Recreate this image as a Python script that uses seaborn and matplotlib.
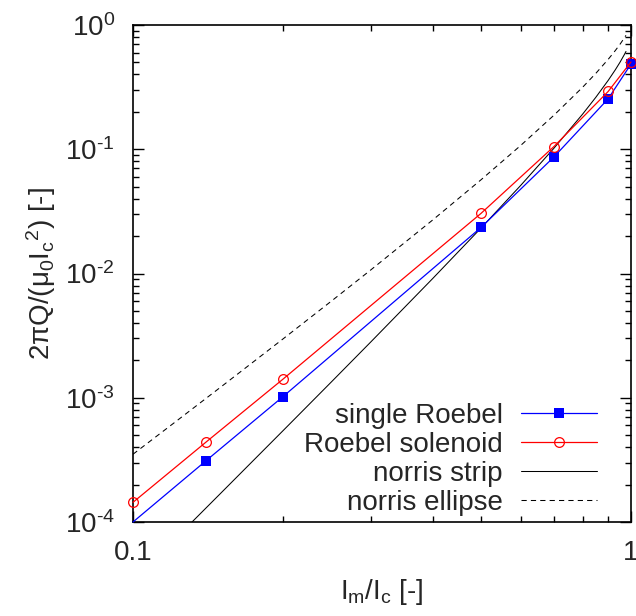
import numpy as np
import pandas as pd
import matplotlib
matplotlib.use("Agg")
import matplotlib.pyplot as plt
import seaborn as sns
from matplotlib.ticker import LogLocator, NullFormatter, FixedLocator, FixedFormatter

# ---- data ----
x_meas = [0.1, 0.14, 0.2, 0.5, 0.7, 0.9, 1.0]
single_roebel = [1.0e-4, 3.1e-4, 1.02e-3, 0.0235, 0.0866, 0.255, 0.485]
roebel_solenoid = [1.44e-4, 4.38e-4, 1.41e-3, 0.0305, 0.105, 0.292, 0.504]

x_norris = [0.1, 0.12, 0.15, 0.2, 0.25, 0.3, 0.4, 0.5, 0.6, 0.7, 0.8, 0.85,
            0.9, 0.93, 0.95, 0.97, 0.977]
norris_strip = [3.347e-5, 6.952e-5, 1.7029e-4, 5.4205e-4, 1.33577e-3, 2.80216e-3,
                9.1314e-3, 0.0232482, 0.050979, 0.1017526, 0.192257, 0.262052,
                0.358528, 0.435932, 0.49996, 0.57926, 0.612358]
norris_ellipse = [3.511e-4, 6.133e-4, 1.2178e-3, 2.9703e-3, 5.9769e-3, 0.0106551,
                  0.0270093, 0.0568528, 0.1069674, 0.1876163, 0.3162248, 0.408364,
                  0.529483, 0.622804, 0.697927, 0.788707, 0.825947]

labels = ["single Roebel", "Roebel solenoid", "norris strip", "norris ellipse"]
y_tick_vals = [1e-4, 1e-3, 1e-2, 1e-1, 1]
y_tick_labels = [r"$\mathregular{10^{\text{-}4}}$", r"$\mathregular{10^{\text{-}3}}$",
                 r"$\mathregular{10^{\text{-}2}}$", r"$\mathregular{10^{\text{-}1}}$",
                 r"$\mathregular{10^{0}}$"]
x_tick_vals = [0.1, 1]
x_tick_labels = ["0.1", "1"]

sns.set_style("ticks")
plt.rcParams["font.family"] = ["Liberation Sans", "DejaVu Sans"]
plt.rcParams["mathtext.fontset"] = "custom"
plt.rcParams["mathtext.rm"] = "Liberation Sans"
plt.rcParams["mathtext.it"] = "Liberation Sans"
plt.rcParams["mathtext.bf"] = "Liberation Sans"
plt.rcParams["mathtext.sf"] = "Liberation Sans"

FS = 20
fig = plt.figure(figsize=(6.36, 6.16), dpi=100)
ax = fig.add_axes([133/636, 1-522/616, (631-133)/636, (522-25)/616])

df_meas = pd.DataFrame({"x": x_meas, "single": single_roebel, "sol": roebel_solenoid})
df_n = pd.DataFrame({"x": x_norris, "strip": norris_strip, "ellipse": norris_ellipse})

sns.lineplot(data=df_meas, x="x", y="single", ax=ax, color="#0000ff", lw=0.9,
             marker="s", markersize=6.8, markeredgewidth=0, markevery=list(range(1, len(x_meas))),
             label=labels[0], sort=False, estimator=None, clip_on=False, zorder=4)
sns.lineplot(data=df_meas, x="x", y="sol", ax=ax, color="#ff0000", lw=0.9,
             marker="o", markersize=7, markerfacecolor="none", markeredgecolor="#ff0000",
             markeredgewidth=0.9, label=labels[1], sort=False, estimator=None,
             clip_on=False, zorder=5)
sns.lineplot(data=df_n, x="x", y="strip", ax=ax, color="black", lw=0.75,
             label=labels[2], sort=False, estimator=None, zorder=3)
sns.lineplot(data=df_n, x="x", y="ellipse", ax=ax, color="black", lw=0.75,
             dashes=(5, 4), label=labels[3], sort=False, estimator=None, zorder=3)

ax.set_xscale("log")
ax.set_yscale("log")
ax.set_xlim(0.1, 1)
ax.set_ylim(1e-4, 1)

ax.xaxis.set_major_locator(FixedLocator(x_tick_vals))
ax.xaxis.set_major_formatter(FixedFormatter(x_tick_labels))
ax.xaxis.set_minor_locator(FixedLocator([0.2, 0.3, 0.4, 0.5, 0.6, 0.7, 0.8, 0.9]))
ax.xaxis.set_minor_formatter(NullFormatter())

ax.yaxis.set_major_locator(FixedLocator(y_tick_vals))
ax.yaxis.set_major_formatter(FixedFormatter(y_tick_labels))
ax.yaxis.set_minor_locator(LogLocator(base=10, subs=np.arange(2, 10), numticks=20))
ax.yaxis.set_minor_formatter(NullFormatter())

ax.tick_params(which="both", direction="in", top=True, right=True, color="black", width=1)
ax.tick_params(which="major", length=8, labelsize=FS)
ax.tick_params(which="minor", length=4)
ax.tick_params(axis="x", which="major", pad=13)
ax.tick_params(axis="y", which="major", pad=13)
for s in ax.spines.values():
    s.set_linewidth(1.2)
    s.set_color("black")

ax.set_xlabel(r"I$_\mathregular{m}$/I$_\mathregular{c}$ [-]", fontsize=FS)
ax.set_ylabel(r"2πQ/(μ$_\mathregular{0}$I$_\mathregular{c}$$^\mathregular{2}$) [-]", fontsize=FS)
ax.xaxis.set_label_coords(0.5, -(577 - 522) / 497)
ax.yaxis.set_label_coords(-(133 - 58) / 498, 0.5)

leg = ax.legend(loc="lower right", frameon=False, fontsize=FS, markerfirst=False,
                handlelength=2.75, labelspacing=0.1, handletextpad=0.65, numpoints=1,
                borderpad=0, borderaxespad=0,
                bbox_to_anchor=((597 - 133) / 498, 0.013))
for t in leg.get_texts():
    t.set_ha("right")
leg._legend_box.align = "right"

fig.savefig("out.png", dpi=100)
